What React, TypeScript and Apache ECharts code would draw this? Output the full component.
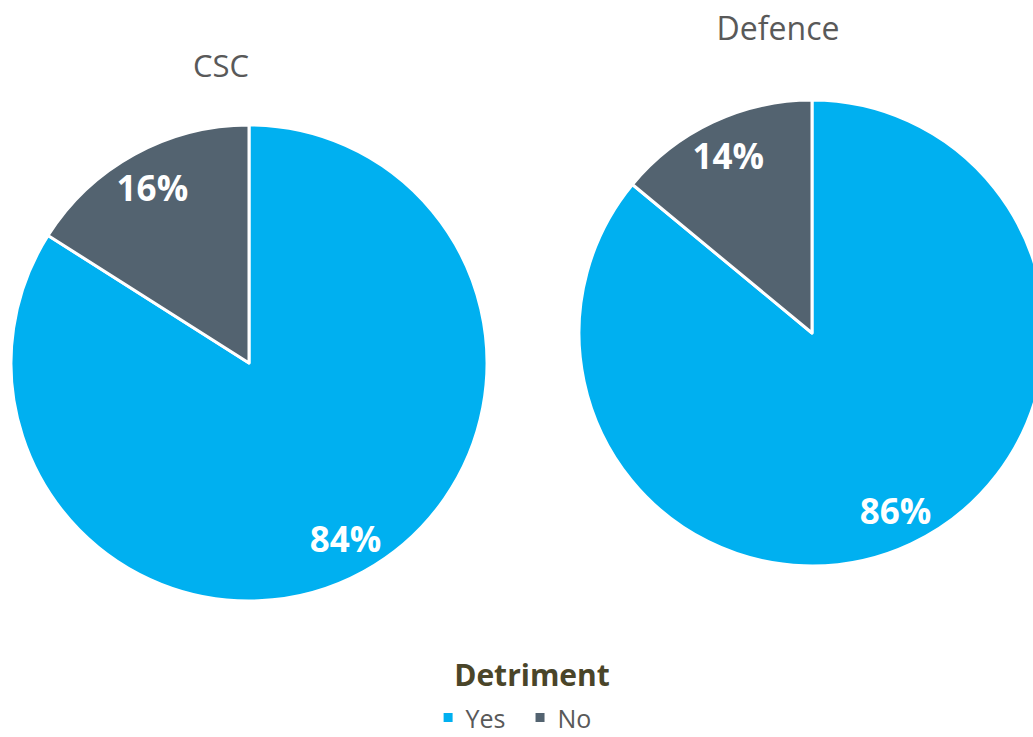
import React, { useEffect, useRef } from "react";
import * as echarts from "echarts";

const categories = ["Yes", "No"];
const cscValues = [84, 16];
const defenceValues = [86, 14];
const chartTitles = ["CSC", "Defence"];
const legendTitle = "Detriment";
const colors = ["#00B0F0", "#536370"];
const FONT = "'Open Sans', sans-serif";

export default function App() {
  const ref = useRef<HTMLDivElement>(null);
  useEffect(() => {
    document.body.style.margin = "0";
    const chart = echarts.init(ref.current!, null, { renderer: "svg" });
    const mk = (vals: number[]) => categories.map((n, i) => ({ name: n, value: vals[i] }));
    const pies = [
      { values: cscValues, center: [249, 363], r: 238 },
      { values: defenceValues, center: [812, 333], r: 233 },
    ];
    const series: any[] = [];
    pies.forEach((p) => {
      series.push({
        type: "pie",
        center: p.center,
        radius: [0, p.r],
        startAngle: 90,
        clockwise: true,
        silent: true,
        label: { show: false },
        labelLine: { show: false },
        itemStyle: { borderColor: "#fff", borderWidth: 3 },
        data: mk(p.values),
      });
      series.push({
        type: "pie",
        center: p.center,
        radius: [p.r * 0.66, p.r],
        startAngle: 90,
        clockwise: true,
        silent: true,
        itemStyle: { color: "transparent", borderWidth: 0 },
        label: {
          show: true,
          position: "inside",
          formatter: "{c}%",
          color: "#fff",
          fontFamily: FONT,
          fontWeight: "bold",
          fontSize: 35,
        },
        labelLine: { show: false },
        data: mk(p.values),
      });
    });
    chart.setOption({
      animation: false,
      color: colors,
      title: [
        {
          text: chartTitles[0],
          left: 216,
          top: 44,
          textAlign: "center",
          textStyle: { fontFamily: FONT, fontWeight: "normal", fontSize: 31, color: "#595959" },
        },
        {
          text: chartTitles[1],
          left: 773,
          top: 6,
          textAlign: "center",
          textStyle: { fontFamily: FONT, fontWeight: "normal", fontSize: 32, color: "#595959" },
        },
        {
          text: legendTitle,
          left: 527,
          top: 654,
          textAlign: "center",
          textStyle: { fontFamily: FONT, fontWeight: "bold", fontSize: 30, color: "#4A4529" },
        },
      ],
      legend: {
        data: categories,
        left: "center",
        top: 700,
        icon: "rect",
        itemWidth: 11,
        itemHeight: 11,
        itemGap: 28,
        textStyle: { fontFamily: FONT, fontSize: 25, lineHeight: 24, color: "#595959", padding: [0, 0, 0, 7] },
        selectedMode: false,
      },
      series,
    });
    return () => chart.dispose();
  }, []);
  return <div ref={ref} style={{ width: 1033, height: 737 }} />;
}
